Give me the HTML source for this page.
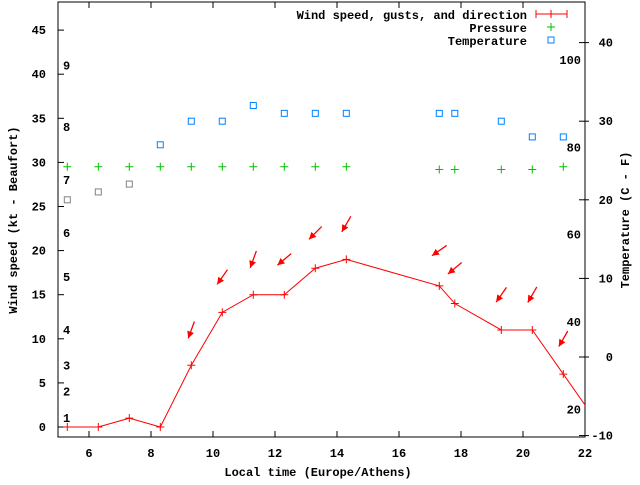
<!DOCTYPE html>
<html><head><meta charset="utf-8"><style>
body{margin:0;background:#fff}
svg text{font-family:"Liberation Mono",monospace;font-weight:bold;font-size:12px;fill:#000}
</style></head><body>
<svg id="chart" width="640" height="480" xmlns="http://www.w3.org/2000/svg">
<g id="g"></g>
</svg>
<script>
const hours=[5.3,6.3,7.3,8.3,9.3,10.3,11.3,12.3,13.3,14.3,17.3,17.8,19.3,20.3,21.3,22.3];
const wind=[0,0,1,0,7,13,15,15,18,19,16,14,11,11,6,1];
const gustHours=[9.3,10.3,11.3,12.3,13.3,14.3,17.3,17.8,19.3,20.3,21.3];
const gusts=[11,17,19,19,22,23,20,18,15,15,10];
const gustDir=[20,35,20,50,45,30,55,50,35,30,30];
const pressHours=[5.3,6.3,7.3,8.3,9.3,10.3,11.3,12.3,13.3,14.3,17.3,17.8,19.3,20.3,21.3];
const pressure=[29.5,29.5,29.5,29.5,29.5,29.5,29.5,29.5,29.5,29.5,29.2,29.2,29.2,29.2,29.5];
const tempHours=[5.3,6.3,7.3,8.3,9.3,10.3,11.3,12.3,13.3,14.3,17.3,17.8,19.3,20.3,21.3];
const temps=[20,21,22,27,30,30,32,31,31,31,31,31,30,28,28];
const tempGray=[1,1,1,0,0,0,0,0,0,0,0,0,0,0,0];
const xTicks=[6,8,10,12,14,16,18,20,22];
const yTicks=[0,5,10,15,20,25,30,35,40,45];
const y2Ticks=[-10,0,10,20,30,40];
const fTicks=[20,40,60,80,100];
const beaufort=[1,4,7,11,17,22,28,34,41];
const L=58,R=585,T=2,B=437;
const X=h=>L+(h-5)*31;
const Y=v=>427-v*8.82;
const Y2=c=>357-c*7.86;
const g=document.getElementById('g');
const NS='http://www.w3.org/2000/svg';
function el(t,a,txt){const e=document.createElementNS(NS,t);for(const k in a)e.setAttribute(k,a[k]);if(txt!==undefined)e.textContent=txt;g.appendChild(e);return e;}
let e;
e=el('rect',{x:L,y:T,width:R-L,height:B-T,fill:'none',stroke:'#000','stroke-width':1});


xTicks.forEach(t=>{
 e=el('line',{x1:X(t),x2:X(t),y1:B,y2:B-6,stroke:'#000'});
 
 
 e=el('line',{x1:X(t),x2:X(t),y1:T,y2:T+6,stroke:'#000'});
 
 
 e=el('text',{x:X(t),y:B+20,'text-anchor':'middle'},t);
 
 
});
yTicks.forEach(t=>{
 e=el('line',{x1:L,x2:L+6,y1:Y(t),y2:Y(t),stroke:'#000'});
 
 
 e=el('text',{x:L-12,y:Y(t)+4,'text-anchor':'end'},t);
 
 
});
y2Ticks.forEach(t=>{
 e=el('line',{x1:R-6,x2:R+4,y1:Y2(t),y2:Y2(t),stroke:'#000'});
 
 
 e=el('text',{x:R+28,y:Y2(t)+4,'text-anchor':'end'},t);
 
 
});
fTicks.forEach(f=>{
 e=el('text',{x:R-4,y:Y2((f-32)*5/9)+4,'text-anchor':'end'},f);
 
 
});
beaufort.forEach((k,i)=>{
 e=el('text',{x:63,y:Y(k)+4},i+1);
 
 
});
e=el('text',{x:318,y:476,'text-anchor':'middle'},'Local time (Europe/Athens)');


e=el('text',{x:0,y:0,'text-anchor':'middle',transform:'translate(17,220) rotate(-90)'},'Wind speed (kt - Beaufort)');


e=el('text',{x:0,y:0,'text-anchor':'middle',transform:'translate(629,220) rotate(-90)'},'Temperature (C - F)');


// clip
const defs=el('defs',{});
const cp=document.createElementNS(NS,'clipPath');cp.setAttribute('id','cp');
const cr=document.createElementNS(NS,'rect');cr.setAttribute('x',L);cr.setAttribute('y',T);cr.setAttribute('width',R-L);cr.setAttribute('height',B-T);
cp.appendChild(cr);defs.appendChild(cp);
// pressure
pressHours.forEach((h,i)=>{
 const x=X(h),y=Y(pressure[i]);
 e=el('path',{d:`M${x-4},${y}H${x+4}M${x},${y-4}V${y+4}`,stroke:'#00c000','stroke-width':1});
 
 
});
// temps
tempHours.forEach((h,i)=>{
 e=el('rect',{x:X(h)-3,y:Y2(temps[i])-3,width:6,height:6,fill:'none',stroke:tempGray[i]?'#808080':'#0080ff','stroke-width':1});
 
 
});
// wind line
e=el('polyline',{points:hours.map((h,i)=>X(h)+','+Y(wind[i])).join(' '),fill:'none',stroke:'#f00','stroke-width':1,'clip-path':'url(#cp)'});


hours.forEach((h,i)=>{
 if(X(h)>R)return;
 const x=X(h),y=Y(wind[i]);
 e=el('path',{d:`M${x-4},${y}H${x+4}M${x},${y-4}V${y+4}`,stroke:'#f00'});
 
 
});
// gust arrows
gustHours.forEach((h,i)=>{
 const cx=X(h),cy=Y(gusts[i]);const a=gustDir[i]*Math.PI/180;
 const dx=Math.sin(a)*9,dy=Math.cos(a)*9;
 const x1=cx+dx,y1=cy-dy,x2=cx-dx,y2=cy+dy;
 const ux=-dx/9,uy=dy/9,px=-uy,py=ux;
 e=el('line',{x1,y1,x2,y2,stroke:'#f00','stroke-width':1.3});
 
 
 e=el('polygon',{points:`${x2},${y2} ${x2-ux*7+px*3.5},${y2-uy*7+py*3.5} ${x2-ux*7-px*3.5},${y2-uy*7-py*3.5}`,fill:'#f00'});
 
 
});
// legend
const lg=[['Wind speed, gusts, and direction',15],['Pressure',28],['Temperature',41]];
lg.forEach(([t,y])=>{e=el('text',{x:527,y:y+4,'text-anchor':'end'},t);});
e=el('path',{d:'M536,14H567M536,10V18M567,10V18M551,10V18',stroke:'#f00'});


e=el('path',{d:'M547,27H555M551,23V31',stroke:'#00c000'});


e=el('rect',{x:548,y:37,width:6,height:6,fill:'none',stroke:'#0080ff'});


</script>
</body></html>
